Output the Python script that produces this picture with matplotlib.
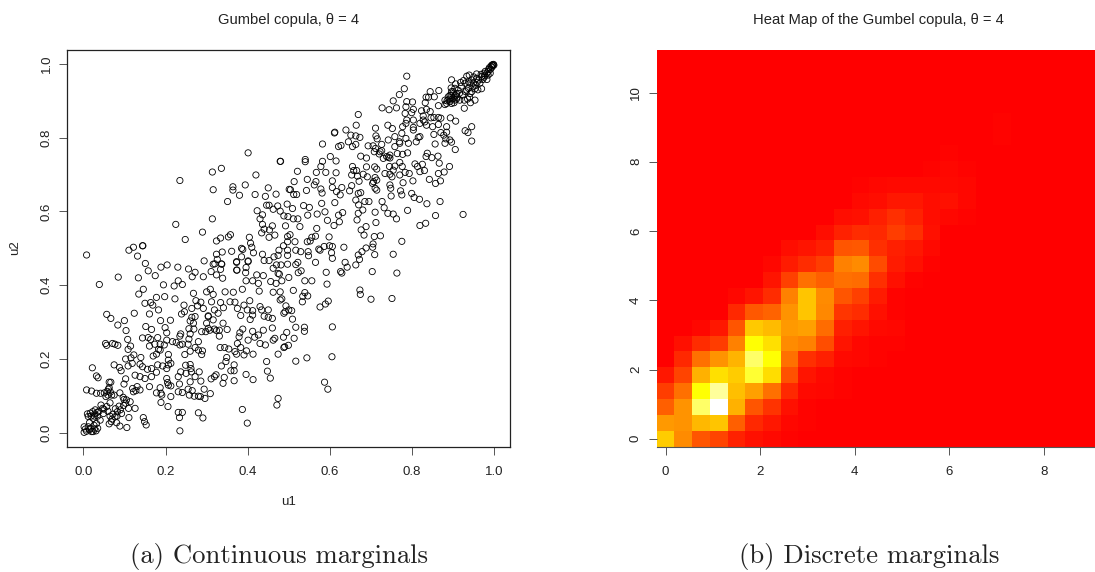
import matplotlib
matplotlib.use("Agg")
import matplotlib.pyplot as plt
from matplotlib.colors import LinearSegmentedColormap
import numpy as np

# points, (u1, u2)
pts_low = [
(.002,.001),(.002,.016),(.012,.016),(.024,.003),(.031,.005),(.020,.003),(.010,.051),(.023,.057),(.028,.051),(.024,.039),
(.015,.027),(.032,.025),(.041,.034),(.049,.052),(.043,.075),(.047,.066),(.065,.081),(.057,.071),(.065,.045),(.063,.024),
(.077,.043),(.081,.027),(.089,.018),(.106,.014),(.083,.057),(.093,.052),(.110,.066),(.126,.066),(.111,.041),(.105,.089),
(.114,.084),(.146,.041),(.149,.030),(.153,.021),(.235,.005),(.231,.055),(.241,.055),(.234,.041),(.280,.054),(.291,.040),
(.387,.063),(.399,.026),(.474,.093),(.471,.075),(.008,.116),(.020,.113),(.032,.107),(.042,.107),(.051,.108),(.061,.118),
(.069,.102),(.075,.102),(.089,.108),(.097,.096),(.099,.132),(.103,.146),(.063,.137),(.067,.137),(.032,.154),(.036,.149),
(.022,.176),(.075,.184),(.088,.177),(.092,.168),(.103,.200),(.109,.181),(.119,.188),(.116,.203),(.123,.211),(.140,.204),
(.138,.186),(.144,.179),(.126,.156),(.138,.152),(.150,.147),(.166,.152),(.156,.172),(.166,.174),(.178,.164),(.120,.120),
(.131,.125),(.122,.111),(.128,.114),(.138,.116),(.161,.125),(.187,.122),(.178,.108),(.189,.107),(.191,.102),(.189,.082),
(.206,.071),(.213,.098),(.203,.147),(.205,.136),(.207,.129),(.213,.127),(.234,.132),(.231,.111),(.241,.109),(.255,.118),
(.265,.114),(.258,.102),(.270,.099),(.280,.099),(.285,.098),(.294,.118),(.296,.093),(.309,.106),(.181,.184),(.193,.181),
(.207,.197),(.213,.188),(.203,.174),(.207,.184),(.231,.152),(.237,.165),(.249,.183),(.260,.185),(.262,.174),(.250,.161),
(.263,.165),(.272,.152),(.260,.138),(.282,.165),(.286,.140),(.311,.146),(.319,.152),(.323,.157),(.336,.181),(.347,.193),
(.349,.204),(.359,.168),(.367,.168),(.367,.184),(.343,.150),(.340,.134),(.367,.141),(.396,.158),(.413,.144),(.446,.193),
(.448,.167),(.455,.148),(.054,.242),(.057,.237),(.071,.242),(.077,.240),(.084,.237),(.108,.253),(.115,.235),(.109,.226),
(.144,.257),(.158,.258),(.164,.253),(.181,.258),(.161,.235),(.174,.240),(.187,.240),(.183,.226),(.170,.208),(.178,.213),
(.187,.224),(.207,.212),(.197,.238),(.203,.251),(.217,.247),(.226,.245),(.235,.238),(.241,.240),(.257,.254),(.255,.240),
(.260,.221),(.272,.231),(.280,.247),(.280,.224),(.290,.222),(.288,.212),(.247,.212),(.333,.231),(.344,.231),(.354,.227),
(.369,.220),(.373,.213),(.391,.211),(.397,.222),(.413,.213),(.383,.231),(.375,.242),(.379,.260),(.401,.251),(.417,.259),
(.430,.242),(.443,.238),(.462,.251),(.474,.213),(.488,.231),(.499,.237),(.487,.259),(.057,.321),(.067,.310),(.084,.292),
(.100,.304),(.104,.277),(.124,.324),(.152,.288),(.166,.280),(.188,.304),(.212,.305),(.199,.285),(.203,.271),(.237,.268),
(.235,.262),(.260,.268),(.257,.282),(.269,.281),(.268,.297),(.260,.303),(.264,.313),(.272,.315),(.239,.322),(.246,.328),
(.288,.274),(.298,.274),(.304,.283),(.300,.297),(.304,.315),(.316,.306),(.308,.278),(.319,.281),(.331,.278),(.331,.262),
(.324,.277),(.350,.280),(.340,.297),(.381,.271),(.388,.281),(.412,.275),(.438,.278),(.426,.265),(.460,.284),(.495,.272),
]
# the tight bunch in the bottom left corner
pts_corner = [
(.005,.010),(.008,.004),(.015,.008),(.018,.012),(.027,.010),(.035,.012),(.026,.020),(.019,.045),(.027,.045),(.017,.053),
(.035,.045),(.029,.062),(.034,.055),(.012,.044),(.038,.058),(.050,.064),(.060,.058),(.072,.050),(.082,.045),(.090,.062),
(.078,.065),(.087,.072),(.098,.074),(.103,.080),(.070,.037),(.068,.030),(.055,.098),(.060,.102),(.066,.110),(.063,.122),
(.058,.112),(.099,.090),
]
pts_mid = [
(.039,.402),(.085,.422),(.134,.420),(.158,.439),(.175,.426),(.151,.459),(.189,.449),(.204,.455),(.230,.449),(.256,.444),
(.272,.435),(.265,.423),(.292,.423),(.294,.466),(.311,.437),(.320,.458),(.336,.458),(.324,.428),(.334,.443),(.339,.419),
(.373,.462),(.374,.441),(.395,.434),(.401,.464),(.396,.412),(.412,.412),(.422,.428),(.438,.426),(.426,.405),(.428,.384),
(.456,.410),(.462,.446),(.470,.455),(.474,.432),(.483,.412),(.195,.401),(.221,.398),(.231,.412),(.241,.402),(.146,.389),
(.135,.376),(.178,.367),(.198,.369),(.223,.363),(.150,.351),(.164,.353),(.169,.346),(.183,.333),(.161,.322),(.245,.346),
(.268,.378),(.300,.382),(.309,.389),(.316,.375),(.345,.382),(.365,.381),(.357,.355),(.369,.354),(.334,.353),(.312,.355),
(.274,.358),(.286,.354),(.264,.337),(.278,.344),(.292,.337),(.341,.339),(.328,.324),(.319,.333),(.304,.317),(.391,.346),
(.405,.358),(.399,.333),(.412,.331),(.387,.389),(.375,.337),(.383,.318),(.412,.319),(.406,.307),(.430,.342),(.440,.316),
(.450,.333),(.434,.333),(.462,.381),(.479,.382),(.479,.360),(.491,.328),(.500,.333),(.460,.310),(.450,.313),(.488,.324),
(.008,.482),(.111,.495),(.122,.503),(.144,.507),(.145,.507),(.132,.479),(.235,.684),(.225,.565),(.248,.524),(.290,.544),
(.314,.580),(.314,.707),(.336,.717),(.401,.759),(.479,.736),(.480,.736),(.420,.699),(.316,.659),(.364,.667),(.364,.658),
(.380,.644),(.394,.672),(.418,.646),(.450,.664),(.443,.641),(.469,.647),(.501,.660),(.351,.627),(.446,.617),(.452,.617),
(.462,.606),(.473,.615),(.479,.601),(.496,.620),(.423,.602),(.436,.591),(.430,.580),(.436,.565),(.460,.561),(.492,.561),
(.488,.588),(.498,.586),(.440,.552),(.453,.550),(.434,.542),(.452,.530),(.466,.536),(.497,.532),(.404,.530),(.407,.514),
(.410,.503),(.414,.488),(.324,.520),(.334,.528),(.353,.531),(.358,.537),(.338,.490),(.361,.492),(.324,.484),(.326,.470),
(.316,.457),(.337,.457),(.385,.500),(.388,.497),(.385,.477),(.401,.466),(.373,.464),(.487,.507),(.476,.495),(.436,.484),
(.474,.481),(.464,.477),(.440,.467),(.452,.467),(.497,.495),(.497,.481),(.497,.457),(.481,.455),
(.396,.448),(.373,.441),
]
pts_right = [
(.775,.519),(.723,.534),(.708,.532),(.705,.512),(.704,.503),(.688,.501),(.678,.491),(.669,.482),(.672,.470),(.709,.483),
(.754,.484),(.763,.433),(.703,.437),(.663,.455),(.642,.449),(.637,.462),(.626,.437),(.629,.433),(.634,.503),(.606,.473),
(.604,.488),(.606,.505),(.599,.507),(.598,.531),(.586,.505),(.576,.495),(.573,.498),(.565,.462),(.565,.533),(.556,.530),
(.552,.520),(.545,.518),(.547,.491),(.548,.480),(.529,.491),(.515,.518),(.517,.495),(.503,.537),(.497,.518),
(.591,.435),(.593,.403),(.556,.412),(.539,.412),
(.530,.439),(.523,.434),(.522,.462),(.517,.456),(.477,.430),
(.500,.421),(.469,.405),(.511,.386),(.483,.363),(.539,.380),
(.534,.370),(.546,.371),(.533,.355),(.596,.357),(.589,.349),(.576,.341),(.673,.387),(.674,.375),(.700,.362),(.751,.364),
(.493,.344),(.507,.331),(.509,.308),(.538,.286),(.538,.275),(.517,.286),(.606,.287),
(.513,.256),(.466,.256),(.490,.233),(.517,.194),
(.544,.203),(.605,.206),(.587,.137),(.595,.118),
]
pts_high = [
(.787,.967),(.781,.933),(.769,.917),(.754,.900),(.727,.881),(.744,.876),(.762,.881),(.787,.898),(.801,.897),(.785,.884),
(.783,.866),(.803,.877),(.799,.868),(.669,.863),(.664,.834),(.711,.826),(.741,.834),(.752,.825),(.639,.821),(.611,.813),
(.612,.815),(.651,.807),(.663,.805),(.673,.801),(.712,.805),(.715,.797),(.645,.789),(.655,.776),(.663,.782),(.582,.783),
(.621,.776),(.627,.779),(.693,.778),(.705,.778),(.711,.771),(.726,.782),(.742,.794),(.758,.803),(.777,.830),(.775,.812),
(.769,.789),(.785,.798),(.803,.821),(.803,.828),(.815,.801),(.819,.803),(.810,.789),(.791,.785),(.785,.839),(.803,.848),
(.823,.873),(.835,.877),(.827,.848),(.831,.843),(.844,.871),(.846,.854),(.853,.855),(.864,.855),(.870,.853),(.850,.830),
(.864,.836),(.853,.809),(.870,.814),(.884,.830),(.884,.815),(.877,.807),(.882,.797),(.892,.794),(.896,.788),(.856,.783),
(.880,.785),(.905,.768),(.929,.819),(.936,.814),(.945,.830),(.945,.791),(.906,.845),(.893,.854),(.927,.880),(.896,.957),
(.844,.925),(.865,.928),(.840,.910),(.834,.910),(.854,.911),(.832,.895),(.864,.887),(.880,.902),(.888,.911),(.896,.925),
(.904,.934),(.892,.898),(.900,.907),(.908,.920),(.884,.893),(.896,.893),(.904,.902),(.912,.929),(.916,.902),(.927,.902),
(.923,.916),(.941,.920),(.942,.895),(.953,.902),(.969,.933),(.953,.933),(.933,.967),(.939,.970),(.929,.948),(.937,.952),
(.945,.957),(.949,.948),(.957,.973),(.957,.961),(.969,.966),(.975,.964),(.985,.979),(.991,.986),(.996,.995),(.998,.999),
(.994,.991),(.990,.975),(.982,.958),(.965,.948),(.937,.934),(.941,.948),(.933,.929),(.906,.946),(.540,.741),(.540,.735),
(.582,.736),(.601,.749),(.615,.737),(.578,.722),(.521,.709),(.567,.706),(.590,.706),(.615,.705),(.513,.681),(.545,.687),
(.566,.681),(.562,.672),(.606,.683),(.578,.661),(.606,.665),(.629,.665),(.543,.657),(.504,.659),(.512,.646),(.519,.646),
(.581,.650),(.616,.654),(.625,.645),(.655,.722),(.658,.711),(.653,.699),(.665,.711),(.667,.696),(.675,.750),(.689,.745),
(.689,.721),(.709,.721),(.714,.715),(.738,.749),(.742,.747),(.746,.745),(.764,.757),(.777,.755),(.789,.759),(.720,.756),
(.708,.762),(.726,.765),(.745,.722),(.758,.723),(.770,.733),(.776,.722),(.754,.712),(.783,.706),(.793,.703),(.770,.699),
(.746,.701),(.751,.694),(.734,.703),(.681,.701),(.691,.694),(.671,.682),(.706,.681),(.710,.692),(.714,.685),(.704,.676),
(.710,.663),(.714,.658),(.653,.670),(.648,.656),(.669,.649),(.675,.651),(.663,.631),(.685,.627),(.695,.627),(.670,.618),
(.680,.604),(.669,.595),(.710,.598),(.727,.627),(.732,.610),(.741,.595),(.754,.593),(.762,.580),(.789,.603),(.746,.672),
(.748,.663),(.749,.642),(.772,.656),(.775,.645),(.778,.678),(.802,.683),(.799,.649),(.805,.638),(.818,.633),(.836,.621),
(.868,.627),(.857,.589),(.924,.592),(.833,.568),(.819,.562),(.807,.729),(.813,.722),(.825,.728),(.830,.711),(.819,.708),
(.842,.687),(.857,.676),(.869,.683),(.864,.703),(.878,.707),(.891,.722),(.866,.731),(.863,.750),(.848,.746),(.837,.758),
(.834,.749),(.509,.608),(.536,.616),(.550,.611),(.511,.580),(.522,.580),(.546,.590),
(.569,.593),(.580,.622),(.588,.599),(.612,.624),(.621,.590),(.631,.597),(.594,.576),(.610,.562),(.623,.572),
(.527,.559),(.568,.554),(.676,.550),(.688,.559),(.712,.570),(.666,.577),
(.683,.536),(.722,.762),(.730,.744),(.746,.753),(.758,.776),(.770,.785),(.827,.859),
(.835,.834),(.819,.839),(.787,.848),
]
# the dark run along the diagonal in the top right
pts_top = [
(.895,.915),(.900,.925),(.905,.915),(.890,.905),(.885,.900),(.892,.915),(.910,.910),(.897,.905),(.902,.895),(.908,.905),
(.880,.890),(.915,.920),(.895,.935),(.958,.950),(.962,.957),(.955,.942),(.948,.938),(.945,.925),(.950,.965),(.968,.972),
(.975,.975),(.978,.980),(.982,.975),(.986,.985),(.988,.990),(.992,.994),(.994,.997),(.996,.998),(.999,.997),(.985,.970),
(.977,.968),(.972,.958),(.960,.930),(.935,.905),(.940,.910),(.930,.925),(.920,.940),(.925,.955),(.918,.950),
]

# heat map levels, 0 red .. 75 yellow .. 100 white, bottom row first, trailing zeros left out
heat_rows = [
[60,41,25,20,10,5,3,1],
[45,43,54,58,28,12,7,2,1],
[28,43,85,100,52,25,15,5,1],
[18,33,75,90,56,47,33,12,3,2,1],
[7,20,52,66,60,80,65,24,6,3,1],
[0,12,33,43,53,85,75,33,14,9,3,2,1],
[0,5,13,18,38,75,66,41,38,23,6,2,1,1],
[0,0,2,7,25,59,55,45,47,32,9,6,3,2],
[0,0,0,0,12,26,29,43,58,40,16,13,5,1],
[0,0,0,0,2,6,13,38,58,41,25,19,8,1],
[0,0,0,0,0,0,6,19,33,28,33,32,14,5,1],
[0,0,0,0,0,0,2,8,13,18,38,41,22,8,5,1],
[0,0,0,0,0,0,0,4,6,9,25,26,14,9,7,3],
[0,0,0,0,0,0,0,0,0,4,10,13,12,18,14,5],
[0,0,0,0,0,0,0,0,0,0,4,5,9,14,10,4,2,1],
[0,0,0,0,0,0,0,0,0,0,0,3,4,7,7,4,5,2],
[0,0,0,0,0,0,0,0,0,0,0,1,2,3,3,3,3,2],
[0,0,0,0,0,0,0,0,0,0,0,0,0,0,0,1,2,1],
[0,0,0,0,0,0,0,0,0,0,0,0,0,0,0,0,1],
[0,0,0,0,0,0,0,0,0,0,0,0,0,0,0,0,0,0,0,1],
[0,0,0,0,0,0,0,0,0,0,0,0,0,0,0,0,0,0,0,1],
]
n_cells = 25
x_max = 9
y_max = 11
scatter_ticks = [0.0, 0.2, 0.4, 0.6, 0.8, 1.0]
heat_xticks = [0, 2, 4, 6, 8]
heat_yticks = [0, 2, 4, 6, 8, 10]

plt.rcParams['font.family'] = ['Liberation Sans', 'DejaVu Sans']

W, H = 1095, 572
fig = plt.figure(figsize=(W / 100, H / 100), dpi=100)

def add_axes(left, top, right, bottom):
    return fig.add_axes([left / W, 1 - bottom / H, (right - left) / W, (bottom - top) / H])

ink = '#222222'
tick_size = 9.5
title_size = 10.6
caption_size = 19.2

def style_ticks(a):
    a.tick_params(length=5.8, width=0.7, labelsize=tick_size, color='#555555', labelcolor=ink)
    a.tick_params(axis='x', pad=8)
    a.tick_params(axis='y', pad=4.8)

# left panel
ax = add_axes(67.3, 50, 510, 446.7)
pts = np.array(pts_low + pts_corner + pts_mid + pts_right + pts_high + pts_top)
ax.scatter(pts[:, 0], pts[:, 1], s=20, facecolors='none', edgecolors='black', linewidths=0.6)
ax.set_xlim((67.3 - 83.3) / 411, (510 - 83.3) / 411)
ax.set_ylim((432.7 - 446.7) / 368.7, (432.7 - 50) / 368.7)
ax.set_xticks(scatter_ticks)
ax.set_yticks(scatter_ticks)
ax.set_xticklabels([f'{t:.1f}' for t in scatter_ticks])
ax.set_yticklabels([f'{t:.1f}' for t in scatter_ticks], rotation=90, va='center')
style_ticks(ax)
for s in ax.spines.values():
    s.set_linewidth(0.9)
    s.set_color('#222222')

fig.text(288.5 / W, 1 - 20 / H, 'Gumbel copula, θ = 4', ha='center', va='center', fontsize=title_size, color=ink)
fig.text(288.5 / W, 1 - 502 / H, 'u1', ha='center', va='center', fontsize=tick_size, color=ink)
fig.text(15.5 / W, 1 - 248 / H, 'u2', ha='center', va='center', rotation=90, fontsize=tick_size, color=ink)

# right panel, runs past the edge of the figure
heat_cmap = LinearSegmentedColormap.from_list('heat', [(0, '#ff0000'), (0.75, '#ffff00'), (1, '#ffffff')])
z = np.zeros((n_cells, n_cells))
for i, row in enumerate(heat_rows):
    z[i, :len(row)] = row
xs = np.linspace(0, x_max, n_cells)
ys = np.linspace(0, y_max, n_cells)
ax2 = add_axes(656.7, 50, 656.7 + 25 * 17.72, 446.7)
ax2.pcolormesh(xs, ys, z, cmap=heat_cmap, vmin=0, vmax=100, shading='nearest')
ax2.set_xticks(heat_xticks)
ax2.set_yticks(heat_yticks)
ax2.set_yticklabels(heat_yticks, rotation=90, va='center')
style_ticks(ax2)
for name in ['top', 'right', 'left']:
    ax2.spines[name].set_visible(False)
ax2.spines['bottom'].set_linewidth(0.8)
ax2.spines['bottom'].set_color('#555555')

fig.text(878.3 / W, 1 - 20 / H, 'Heat Map of the Gumbel copula, θ = 4', ha='center', va='center', fontsize=title_size, color=ink)

# captions
fig.text(279.5 / W, 1 - 557 / H, '(a) Continuous marginals', ha='center', va='center', fontsize=caption_size, family='cmr10', color='#222222')
fig.text(869 / W, 1 - 557 / H, '(b) Discrete marginals', ha='center', va='center', fontsize=caption_size, family='cmr10', color='#222222')

fig.savefig('out.png', dpi=100)
